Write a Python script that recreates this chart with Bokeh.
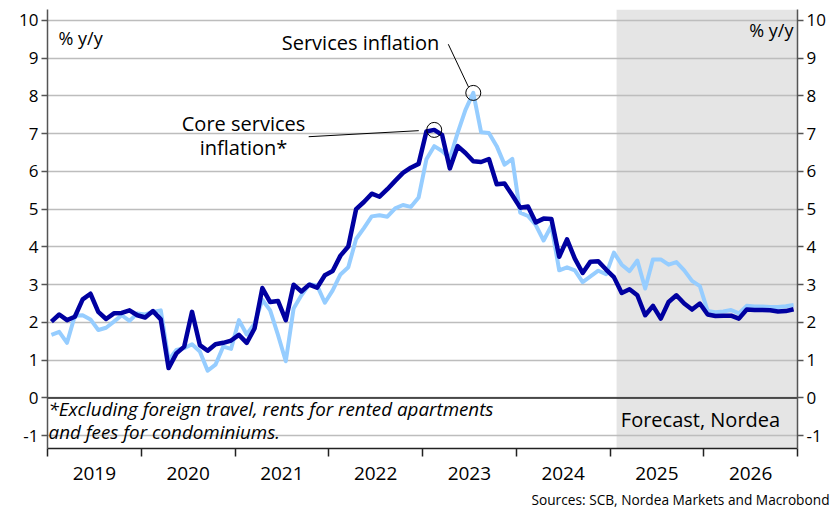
import numpy as np
from bokeh.plotting import figure
from bokeh.models import (Range1d, LinearAxis, FixedTicker, BoxAnnotation, Span,
                          Label, Title, ColumnDataSource)
from bokeh.embed import file_html
from bokeh.resources import INLINE

# ---------------- data (monthly, Jan 2019 - Dec 2026) ----------------
start_year = 2019
core_services = [
    2.02, 2.21, 2.06, 2.15, 2.61, 2.76, 2.28, 2.09, 2.24, 2.25, 2.32, 2.19,   # 2019
    2.13, 2.30, 2.08, 0.79, 1.18, 1.36, 2.28, 1.40, 1.25, 1.42, 1.46, 1.52,   # 2020
    1.67, 1.46, 1.84, 2.91, 2.54, 2.57, 2.06, 3.00, 2.82, 3.00, 2.92, 3.25,   # 2021
    3.36, 3.77, 4.01, 5.00, 5.19, 5.41, 5.33, 5.53, 5.75, 5.96, 6.10, 6.20,   # 2022
    7.06, 7.10, 6.97, 6.08, 6.67, 6.49, 6.27, 6.25, 6.33, 5.66, 5.68, 5.37,   # 2023
    5.04, 5.07, 4.65, 4.75, 4.74, 3.74, 4.20, 3.69, 3.31, 3.61, 3.62, 3.40,   # 2024
    3.20, 2.78, 2.88, 2.72, 2.19, 2.44, 2.10, 2.54, 2.72, 2.50, 2.34, 2.50,   # 2025
    2.21, 2.17, 2.18, 2.18, 2.10, 2.34, 2.33, 2.33, 2.32, 2.29, 2.30, 2.35,   # 2026
]
services = [
    1.67, 1.75, 1.46, 2.18, 2.19, 2.08, 1.80, 1.86, 2.02, 2.19, 2.04, 2.24,   # 2019
    2.21, 2.28, 2.32, 1.00, 1.27, 1.32, 1.42, 1.23, 0.72, 0.88, 1.36, 1.30,   # 2020
    2.06, 1.68, 1.97, 2.60, 2.32, 1.67, 0.97, 2.37, 2.72, 3.01, 2.98, 2.52,   # 2021
    2.85, 3.27, 3.46, 4.21, 4.50, 4.81, 4.84, 4.80, 5.02, 5.11, 5.06, 5.31,   # 2022
    6.32, 6.67, 6.54, 6.35, 7.02, 7.63, 8.08, 7.04, 7.02, 6.67, 6.18, 6.33,   # 2023
    4.91, 4.82, 4.58, 4.17, 4.56, 3.38, 3.46, 3.38, 3.07, 3.22, 3.37, 3.28,   # 2024
    3.85, 3.53, 3.36, 3.64, 2.90, 3.67, 3.67, 3.53, 3.60, 3.38, 3.10, 2.96,   # 2025
    2.30, 2.27, 2.29, 2.33, 2.24, 2.44, 2.42, 2.42, 2.41, 2.41, 2.43, 2.46,   # 2026
]
years = [2019, 2020, 2021, 2022, 2023, 2024, 2025, 2026]
year_labels = ["2019", "2020", "2021", "2022", "2023", "2024", "2025", "2026"]
y_ticks = [-1, 0, 1, 2, 3, 4, 5, 6, 7, 8, 9, 10]
y_tick_labels = ["-1", "0", "1", "2", "3", "4", "5", "6", "7", "8", "9", "10"]
forecast_start = 2025.07

DARK = "#0000A0"
LIGHT = "#96CDFF"
FONT = "Open Sans"

n = len(core_services)
dates = [start_year + (i + 0.5) / 12 for i in range(n)]
src = ColumnDataSource(dict(x=dates, core=core_services, serv=services))

p = figure(width=831, height=513, output_backend="svg", toolbar_location=None,
           x_range=Range1d(2019, 2027), y_range=Range1d(-1.34, 10.29),
           min_border_left=47, min_border_right=34, min_border_top=9,
           min_border_bottom=62)
p.outline_line_color = None
p.background_fill_color = "white"

# forecast shading (below grid)
p.add_layout(BoxAnnotation(left=forecast_start, fill_color="#E5E5E5", fill_alpha=1.0,
                           line_color=None, level="image"))

# grid
p.xgrid.visible = False
p.ygrid.ticker = FixedTicker(ticks=y_ticks)
p.ygrid.grid_line_color = "#BDBDBD"
p.ygrid.grid_line_width = 1.5

# zero line
p.add_layout(Span(location=0, dimension="width", line_color="#222222", line_width=1.5,
                  level="underlay"))

# axes
xt = FixedTicker(ticks=[y + 0.5 for y in years], minor_ticks=years + [2027])
p.xaxis.ticker = xt
p.xaxis.major_label_overrides = {y + 0.5: lab for y, lab in zip(years, year_labels)}
p.xaxis.major_tick_line_color = None
p.xaxis.minor_tick_out = 8
p.xaxis.minor_tick_in = 0
p.xaxis.minor_tick_line_color = "#222222"
p.xaxis.minor_tick_line_width = 1.5
p.xaxis.axis_line_color = "#222222"
p.xaxis.axis_line_width = 1.5
p.xaxis.major_label_text_font = FONT
p.xaxis.major_label_text_font_size = "19px"
p.xaxis.major_label_text_color = "black"
p.xaxis.major_label_standoff = 10

p.yaxis.ticker = FixedTicker(ticks=y_ticks)
right = LinearAxis(ticker=FixedTicker(ticks=y_ticks))
p.add_layout(right, "right")
for ax in (p.yaxis[0], right):
    ax.major_label_overrides = {t: s for t, s in zip(y_ticks, y_tick_labels)}
    ax.axis_line_color = "#555555"
    ax.axis_line_width = 1.5
    ax.major_tick_out = 6
    ax.major_tick_in = 0
    ax.major_tick_line_color = "#555555"
    ax.major_tick_line_width = 1.5
    ax.minor_tick_line_color = None
    ax.major_label_text_font = FONT
    ax.major_label_text_font_size = "17px"
    ax.major_label_text_color = "black"
    ax.major_label_standoff = 3

# lines
p.line("x", "serv", source=src, line_color=LIGHT, line_width=4, line_join="round")
p.line("x", "core", source=src, line_color=DARK, line_width=4.5, line_join="round")

# peak markers and leaders
ic = int(np.argmax(core_services))
iserv = int(np.argmax(services))
p.scatter([dates[ic], dates[iserv]], [core_services[ic], services[iserv]], size=15,
          fill_alpha=0, line_color="black", line_width=1)
serv_leader = dict(x0=2023.275, y0=9.37, x1=2023.49, y1=8.24)
core_leader = dict(x0=2021.786, y0=6.92, x1=2022.96, y1=7.08)
for ld in (serv_leader, core_leader):
    p.segment(x0=[ld["x0"]], y0=[ld["y0"]], x1=[ld["x1"]], y1=[ld["y1"]],
              line_color="black", line_width=1)

def lab(x, y, text, align="left", size="20px", style="normal"):
    p.add_layout(Label(x=x, y=y, text=text, text_align=align, text_baseline="middle",
                       text_font=FONT, text_font_size=size, text_font_style=style,
                       text_color="black"))

lab(2019.117, 9.53, "% y/y", size="18px")
lab(2026.957, 9.74, "% y/y", align="right", size="18px")
lab(2022.339, 9.42, "Services inflation", align="center")
lab(2021.091, 7.26, "Core services", align="center")
lab(2021.091, 6.63, "inflation*", align="center")
lab(2019.011, -0.29, "*Excluding foreign travel, rents for rented apartments",
    size="18.8px", style="italic")
lab(2019.011, -0.89, "and fees for condominiums.", size="18.8px", style="italic")
lab(2025.965, -0.58, "Forecast, Nordea", align="center")

p.add_layout(Title(text="Sources: SCB, Nordea Markets and Macrobond", align="right",
                   text_font=FONT, text_font_size="13.7px", text_font_style="normal",
                   text_color="black", offset=-32), "below")

open("out.html", "w").write(file_html(p, INLINE))
